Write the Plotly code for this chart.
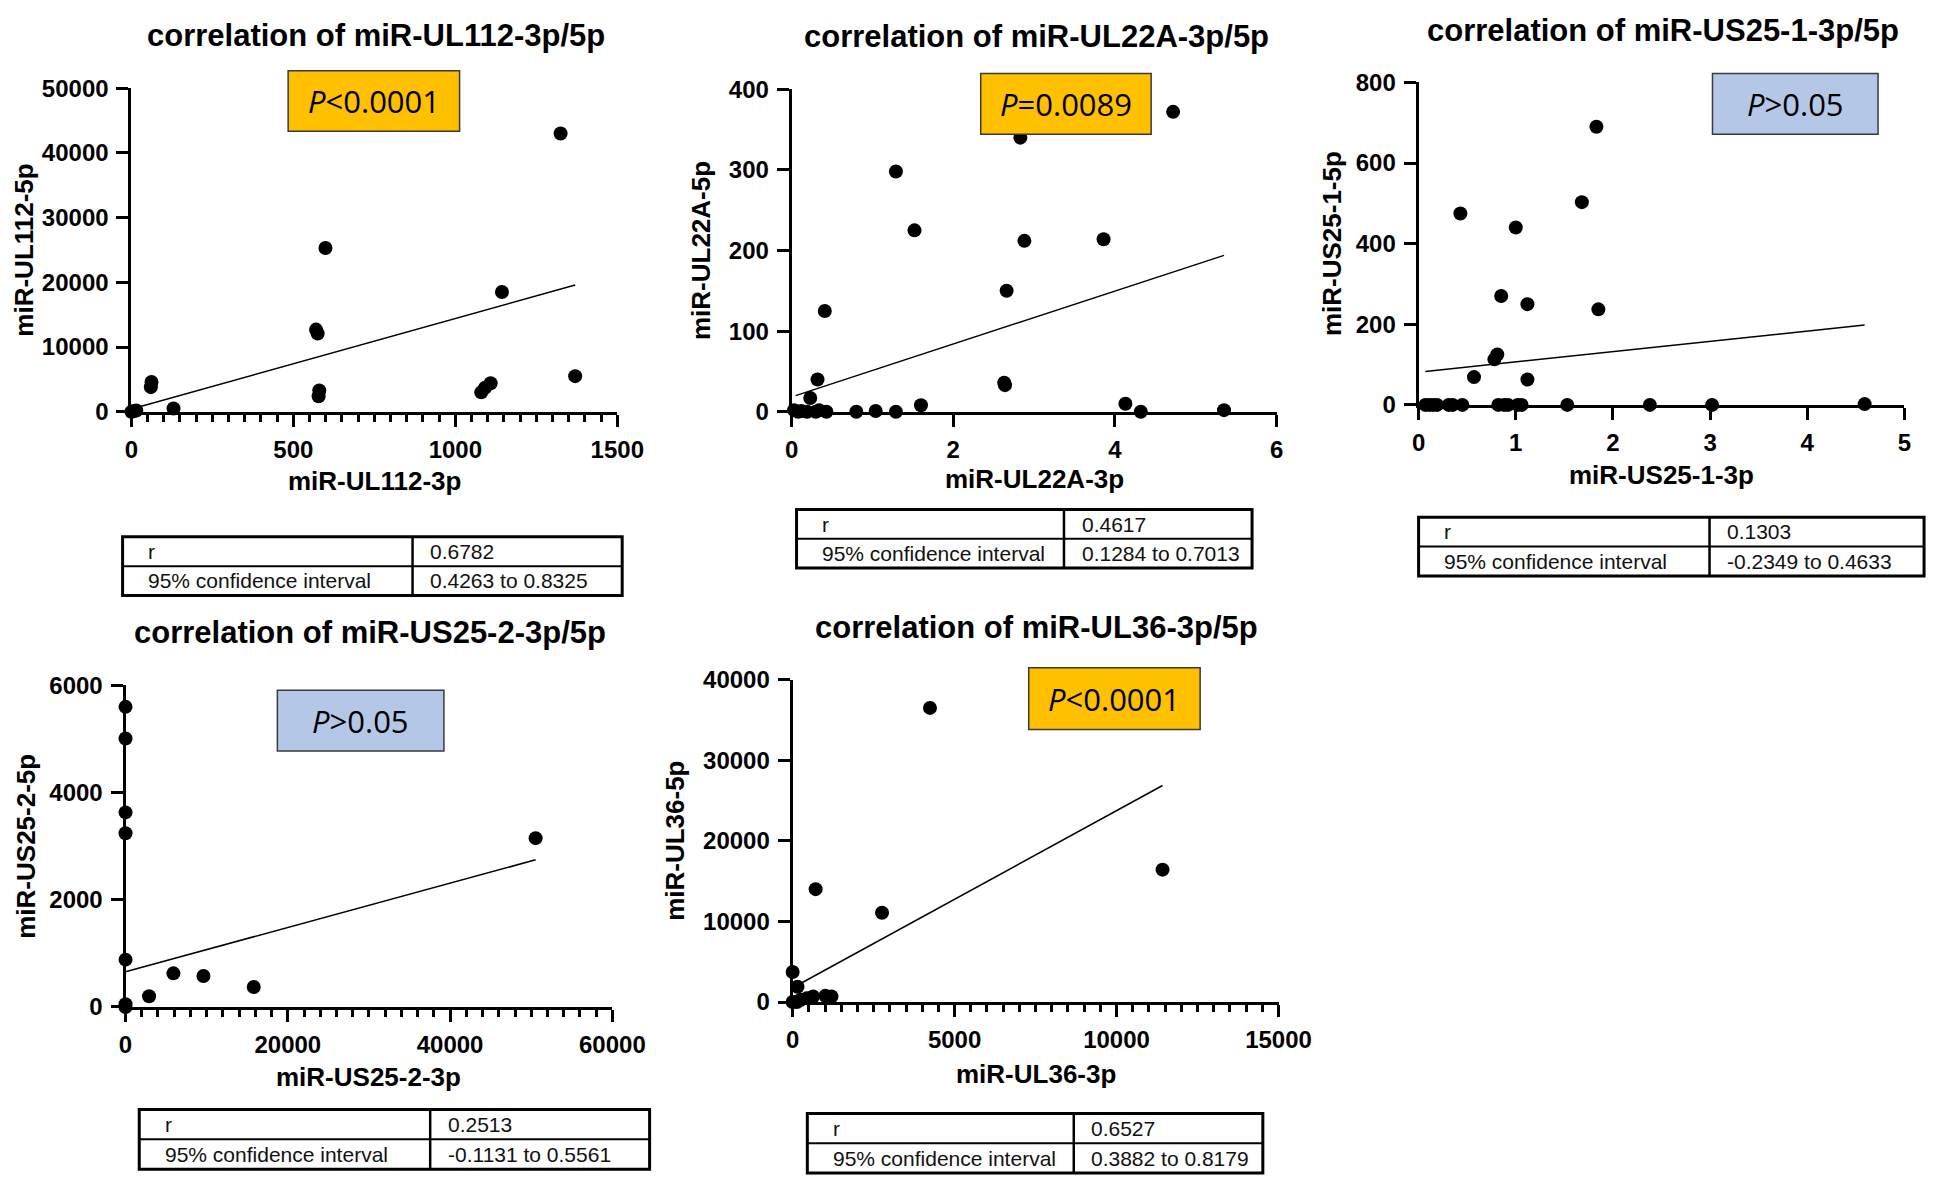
import plotly.graph_objects as go

W, H = 1960, 1189

# ---------------- data ----------------
# Panel 1: miR-UL112
ul112_3p = [0, 8, 15, 60, 62, 130, 570, 575, 578, 580, 599, 1080, 1092, 1109, 1144, 1325, 1370]
ul112_5p = [0, 100, 200, 3800, 4600, 500, 12700, 12100, 2400, 3300, 25300, 3000, 3700, 4400, 18500, 43000, 5500]
ul112_fit_x = [6, 1370]
ul112_fit_y = [500, 19600]

# Panel 2: miR-UL22A
ul22a_3p = [0.03, 0.08, 0.12, 0.19, 0.23, 0.30, 0.32, 0.34, 0.41, 0.43, 0.80, 1.04, 1.29, 1.29,
            1.52, 1.60, 2.63, 2.64, 2.66, 2.83, 2.88, 3.86, 4.13, 4.32, 4.72, 5.35]
ul22a_5p = [2, 0, 1, 0, 17, 0, 40, 2, 125, 0, 0, 1, 0, 298,
            225, 8, 36, 33, 150, 340, 212, 214, 10, 0, 372, 2]
ul22a_fit_x = [0.05, 5.35]
ul22a_fit_y = [20, 194]

# Panel 3: miR-US25-1
us251_3p = [0.07, 0.11, 0.15, 0.19, 0.31, 0.35, 0.45, 0.82, 0.88, 0.92, 1.02, 1.06, 1.53, 2.38, 3.02, 4.59,
            0.43, 0.57, 0.78, 0.81, 0.85, 1.00, 1.12, 1.12, 1.68, 1.83, 1.85]
us251_5p = [0, 0, 0, 0, 0, 0, 0, 0, 0, 0, 0, 0, 0, 0, 0, 2,
            475, 69, 113, 125, 270, 440, 250, 63, 503, 690, 237]
us251_fit_x = [0.07, 4.59]
us251_fit_y = [83, 198]

# Panel 4: miR-US25-2
us252_3p = [0, 0, 0, 0, 0, 0, 0, 2900, 5900, 9600, 15800, 50540]
us252_5p = [5600, 5010, 3630, 3240, 882, 50, 0, 200, 627, 578, 371, 3150]
us252_fit_x = [0, 50540]
us252_fit_y = [657, 2745]

# Panel 5: miR-UL36
ul36_3p = [0, 150, 0, 130, 250, 440, 630, 1010, 1200, 710, 2760, 4240, 11420]
ul36_5p = [3720, 1900, 0, 0, 280, 485, 690, 770, 690, 14000, 11080, 36480, 16420]
ul36_fit_x = [60, 11420]
ul36_fit_y = [1900, 26860]

titles = ["correlation of miR-UL112-3p/5p", "correlation of miR-UL22A-3p/5p",
          "correlation of miR-US25-1-3p/5p", "correlation of miR-US25-2-3p/5p",
          "correlation of miR-UL36-3p/5p"]
x_titles = ["miR-UL112-3p", "miR-UL22A-3p", "miR-US25-1-3p", "miR-US25-2-3p", "miR-UL36-3p"]
y_titles = ["miR-UL112-5p", "miR-UL22A-5p", "miR-US25-1-5p", "miR-US25-2-5p", "miR-UL36-5p"]
p_texts = ["<i>P</i>&lt;0.0001", "<i>P</i>=0.0089", "<i>P</i>&gt;0.05", "<i>P</i>&gt;0.05", "<i>P</i>&lt;0.0001"]
r_values = ["0.6782", "0.4617", "0.1303", "0.2513", "0.6527"]
ci_values = ["0.4263 to 0.8325", "0.1284 to 0.7013", "-0.2349 to 0.4633",
             "-0.1131 to 0.5561", "0.3882 to 0.8179"]

xs = [ul112_3p, ul22a_3p, us251_3p, us252_3p, ul36_3p]
ys = [ul112_5p, ul22a_5p, us251_5p, us252_5p, ul36_5p]
fxs = [ul112_fit_x, ul22a_fit_x, us251_fit_x, us252_fit_x, ul36_fit_x]
fys = [ul112_fit_y, ul22a_fit_y, us251_fit_y, us252_fit_y, ul36_fit_y]

x_ranges = [[0, 1500], [0, 6], [0, 5], [0, 60000], [0, 15000]]
y_ranges = [[0, 50000], [0, 400], [0, 800], [0, 6000], [0, 40000]]
x_dticks = [500, 2, 1, 20000, 5000]
x_minor = [50, None, None, 2000, 500]
y_dticks = [10000, 100, 200, 2000, 10000]

# ---------------- layout geometry (pixels) ----------------
plot_px = [  # left, right, top, bottom
    (127, 623, 76, 407),
    (801, 1296, 77, 407),
    (1441, 1937, 70, 400),
    (121, 618, 687, 1016),
    (802, 1298, 681, 1011),
]
title_px = [(141, 22), (812, 23), (1448, 17), (128, 633), (823, 628)]
xtitle_y = [478, 476, 472, 1088, 1085]
ytitle_x = [17, 708, 1352, 20, 682]
pbox_px = [(287, 462, 58, 120), (994, 1168, 61, 123), (1741, 1910, 61, 123),
           (276, 446, 692, 754), (1043, 1218, 669, 732)]
pbox_colors = ["#FFC000", "#FFC000", "#B4C7E7", "#B4C7E7", "#FFC000"]
table_px = [  # left, right, top, bottom, divider x
    (118, 628, 535, 595, 414),
    (806, 1271, 507, 567, 1079),
    (1441, 1957, 515, 575, 1738),
    (135, 656, 1121, 1182, 432),
    (817, 1282, 1125, 1186, 1089),
]

def fx(px):
    return px / W

def fy(py):
    return 1 - py / H

FONT = "Liberation Sans, Arial, sans-serif"

fig = go.Figure()
layout = dict(
    width=W, height=H, autosize=False,
    margin=dict(l=0, r=0, t=0, b=0),
    paper_bgcolor="white", plot_bgcolor="white",
    showlegend=False,
    shapes=[], annotations=[],
)

for i in range(5):
    n = "" if i == 0 else str(i + 1)
    xa, ya = "x" + n, "y" + n
    fig.add_trace(go.Scatter(x=xs[i], y=ys[i], mode="markers", xaxis=xa, yaxis=ya,
                             marker=dict(size=14, color="black"), cliponaxis=False))
    fig.add_trace(go.Scatter(x=fxs[i], y=fys[i], mode="lines", xaxis=xa, yaxis=ya,
                             line=dict(color="black", width=1.5), cliponaxis=False))
    l, r, t, b = plot_px[i]
    xaxis = dict(domain=[fx(l), fx(r)], anchor=ya, range=x_ranges[i], fixedrange=True,
                 showline=True, linewidth=3, linecolor="black", showgrid=False, zeroline=False,
                 ticks="outside", ticklen=12, tickwidth=3, tickcolor="black",
                 dtick=x_dticks[i], tick0=0, tickformat="d",
                 tickfont=dict(family=FONT, size=24, color="black", weight="bold"),
                 ticklabelstandoff=2)
    if x_minor[i]:
        xaxis["minor"] = dict(dtick=x_minor[i], tick0=0, ticks="outside", ticklen=7,
                              tickwidth=2.5, tickcolor="black", showgrid=False)
    yaxis = dict(domain=[fy(b), fy(t)], anchor=xa, range=y_ranges[i], fixedrange=True,
                 showline=True, linewidth=3, linecolor="black", showgrid=False, zeroline=False,
                 ticks="outside", ticklen=12, tickwidth=3, tickcolor="black",
                 dtick=y_dticks[i], tick0=0, tickformat="d",
                 tickfont=dict(family=FONT, size=24, color="black", weight="bold"),
                 ticklabelstandoff=3)
    layout["xaxis" + n] = xaxis
    layout["yaxis" + n] = yaxis

    # titles
    tx, ty = title_px[i]
    layout["annotations"].append(dict(
        text=titles[i], xref="paper", yref="paper", x=fx(tx), y=fy(ty),
        xanchor="left", yanchor="middle", showarrow=False,
        font=dict(family=FONT, size=31, color="black", weight="bold")))
    layout["annotations"].append(dict(
        text=x_titles[i], xref="paper", yref="paper", x=fx((l + r) / 2), y=fy(xtitle_y[i]),
        xanchor="center", yanchor="middle", showarrow=False,
        font=dict(family=FONT, size=26, color="black", weight="bold")))
    layout["annotations"].append(dict(
        text=y_titles[i], xref="paper", yref="paper", x=fx(ytitle_x[i]), y=fy((t + b) / 2),
        xanchor="center", yanchor="middle", showarrow=False, textangle=-90,
        font=dict(family=FONT, size=26, color="black", weight="bold")))

    # P-value boxes
    bl, br, bt, bb = pbox_px[i]
    layout["shapes"].append(dict(type="rect", xref="paper", yref="paper",
                                 x0=fx(bl), x1=fx(br), y0=fy(bb), y1=fy(bt),
                                 fillcolor=pbox_colors[i], line=dict(color="#3a3a3a", width=1.5)))
    layout["annotations"].append(dict(
        text=p_texts[i], xref="paper", yref="paper", x=fx((bl + br) / 2), y=fy((bt + bb) / 2),
        xanchor="center", yanchor="middle", showarrow=False,
        font=dict(family="Open Sans, Lato, sans-serif", size=31, color="black")))

    # tables
    tl, tr, tt, tb, td = table_px[i]
    tm = (tt + tb) / 2
    layout["shapes"].append(dict(type="rect", xref="paper", yref="paper",
                                 x0=fx(tl), x1=fx(tr), y0=fy(tb), y1=fy(tt),
                                 fillcolor="white", line=dict(color="black", width=3)))
    layout["shapes"].append(dict(type="line", xref="paper", yref="paper",
                                 x0=fx(tl), x1=fx(tr), y0=fy(tm), y1=fy(tm),
                                 line=dict(color="black", width=2)))
    layout["shapes"].append(dict(type="line", xref="paper", yref="paper",
                                 x0=fx(td), x1=fx(td), y0=fy(tb), y1=fy(tt),
                                 line=dict(color="black", width=2.5)))
    rows = [("r", r_values[i]), ("95% confidence interval", ci_values[i])]
    for k, (lab, val) in enumerate(rows):
        cy = tt + (tm - tt) / 2 if k == 0 else tm + (tb - tm) / 2
        layout["annotations"].append(dict(
            text=lab, xref="paper", yref="paper", x=fx(tl + 24), y=fy(cy),
            xanchor="left", yanchor="middle", showarrow=False,
            font=dict(family=FONT, size=21, color="#111111")))
        layout["annotations"].append(dict(
            text=val, xref="paper", yref="paper", x=fx(td + 16), y=fy(cy),
            xanchor="left", yanchor="middle", showarrow=False,
            font=dict(family=FONT, size=21, color="#111111")))

fig.update_layout(**layout)
fig.write_html("out.html", config={"displayModeBar": False},
               post_script="document.body.style.margin='0';document.body.style.overflow='hidden';")
